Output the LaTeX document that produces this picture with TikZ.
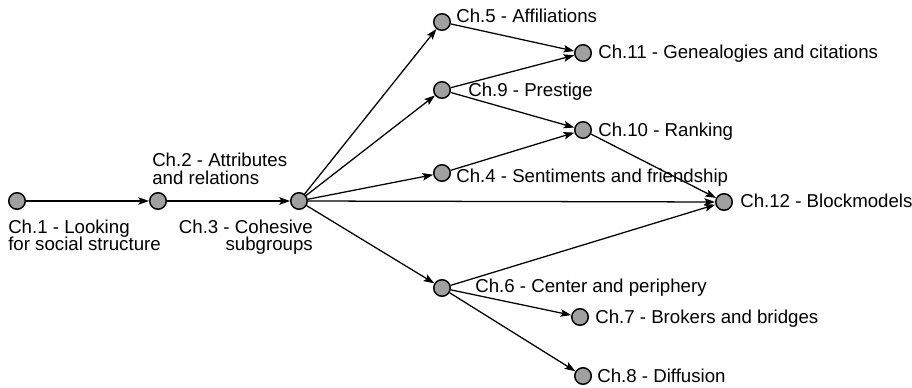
\documentclass[tikz,border=0pt]{standalone}
\usepackage{fontspec}
\setmainfont{Liberation Sans}
\usetikzlibrary{arrows.meta}
\definecolor{chapgray}{RGB}{160,160,160}
\begin{document}
\begin{tikzpicture}[x=0.75pt,y=-0.75pt,
  chap/.style={circle,draw=black,fill=chapgray,line width=1.1pt,minimum size=12.4pt,inner sep=0pt},
  lbl/.style={inner sep=0pt,font=\fontsize{14}{13.5}\selectfont},
  link/.style={-{Stealth[length=8pt,width=5.6pt,inset=1.6pt]},line width=0.95pt}
]
\useasboundingbox (0,0) rectangle (912,388);

% chapters as dots
\node[chap] (c1)  at (17,201)  {};
\node[chap] (c2)  at (158,201) {};
\node[chap] (c3)  at (299,201) {};
\node[chap] (c5)  at (442,22)  {};
\node[chap] (c9)  at (442,90)  {};
\node[chap] (c4)  at (442,173) {};
\node[chap] (c6)  at (442,288) {};
\node[chap] (c11) at (583,53)  {};
\node[chap] (c10) at (583,130) {};
\node[chap] (c12) at (724,202) {};
\node[chap] (c7)  at (580,317) {};
\node[chap] (c8)  at (583,376) {};

% chapter titles
\node[lbl,anchor=base west] (t1a) at (8,233) {Ch.1 - Looking};
\node[lbl,anchor=base west] (t1b) at (8,250) {for social structure};
\node[lbl,anchor=base west] (t2a) at (152,167) {Ch.2 - Attributes};
\node[lbl,anchor=base west] (t2b) at (152,185) {and relations};
\node[lbl,anchor=base east] (t3a) at (313,233) {Ch.3 - Cohesive};
\node[lbl,anchor=base east] (t3b) at (313,250) {subgroups};
\node[lbl,anchor=base west] (t5)  at (456,23)  {Ch.5 - Affiliations};
\node[lbl,anchor=base west] (t9)  at (468,97)  {Ch.9 - Prestige};
\node[lbl,anchor=base west] (t4)  at (456,183) {Ch.4 - Sentiments and friendship};
\node[lbl,anchor=base west] (t6)  at (475,292) {Ch.6 - Center and periphery};
\node[lbl,anchor=base west] (t11) at (598,59)  {Ch.11 - Genealogies and citations};
\node[lbl,anchor=base west] (t10) at (598,137) {Ch.10 - Ranking};
\node[lbl,anchor=base west] (t12) at (740,208) {Ch.12 - Blockmodels};
\node[lbl,anchor=base west] (t7)  at (595,323) {Ch.7 - Brokers and bridges};
\node[lbl,anchor=base west] (t8)  at (597,382) {Ch.8 - Diffusion};

% reading order
\draw[link] (c1) -- (c2);
\draw[link] (c2) -- (c3);
\draw[link] (c3) -- (c5);
\draw[link] (c3) -- (c9);
\draw[link] (c3) -- (c4);
\draw[link] (c3) -- (c12);
\draw[link] (c3) -- (c6);
\draw[link] (c5) -- (c11);
\draw[link] (c9) -- (c11);
\draw[link] (c9) -- (c10);
\draw[link] (c4) -- (c10);
\draw[link] (c10) -- (c12);
\draw[link] (c6) -- (c12);
\draw[link] (c6) -- (c7);
\draw[link] (c6) -- (c8);
\end{tikzpicture}
\end{document}
